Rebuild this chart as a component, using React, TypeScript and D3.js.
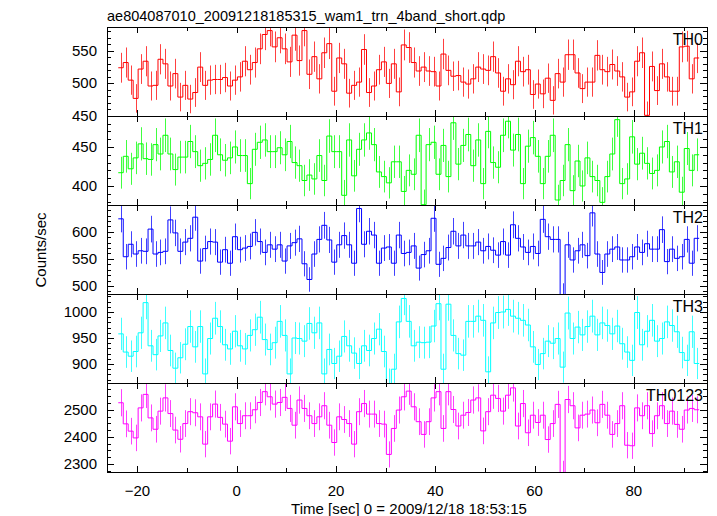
import React from 'react';
import * as d3 from 'd3';

const TITLE = 'ae804087010_20091218185315_wam1_trn_4band_short.qdp';
const X_LABEL = 'Time [sec] 0 = 2009/12/18 18:53:15';
const Y_LABEL = 'Counts/sec';
const T_START = -23.85;
const BIN = 1;
const X_DOMAIN = [-26.12, 94.73];
const X_TICKS = [-20, 0, 20, 40, 60, 80];

const TH0 = [524,532,505,477,522,534,496,497,537,530,496,515,479,497,476,486,525,497,505,506,506,509,496,505,510,534,521,532,553,575,581,556,570,553,533,574,535,581,514,541,507,547,561,488,539,530,485,497,502,552,486,496,521,533,500,530,487,559,555,532,519,525,519,518,496,545,520,511,512,502,499,507,525,522,520,541,516,488,507,498,534,518,521,483,499,484,508,474,515,502,544,544,516,492,502,502,543,521,518,529,519,510,479,487,534,547,451,526,489,530,510,488,488,556,557,507,539];
const TH1 = [417,438,422,436,454,435,434,453,441,465,441,421,437,437,457,444,426,429,434,465,440,433,436,450,439,439,403,447,456,459,444,444,449,440,457,430,426,407,414,409,439,407,464,444,444,388,459,413,447,459,468,453,418,412,404,431,431,393,420,415,465,376,453,456,415,452,412,481,428,452,466,426,459,403,470,430,424,465,483,446,466,403,451,462,438,403,438,465,382,407,453,394,432,400,436,412,407,379,412,441,485,403,409,463,428,442,429,416,420,450,457,418,431,392,448,420,440];
const TH2 = [624,554,577,559,565,564,605,559,562,564,622,598,564,581,588,627,546,569,582,581,544,567,542,591,567,570,573,599,582,562,576,568,576,546,574,580,587,541,512,559,586,612,585,544,576,593,576,542,643,577,601,594,542,570,572,542,594,560,562,574,533,558,565,625,540,551,571,601,574,594,574,574,581,565,573,566,557,582,557,613,588,572,562,573,560,623,591,586,586,483,576,548,565,576,556,635,559,525,559,568,572,548,548,554,572,562,578,568,568,604,545,568,551,554,586,542,588];
const TH3 = [958,923,915,924,960,1018,935,918,954,979,926,892,912,938,972,933,972,881,949,988,972,937,929,963,935,929,955,966,990,947,928,941,982,955,881,950,949,944,978,960,979,881,928,901,915,953,935,921,901,935,926,949,967,924,862,890,981,1026,982,935,942,941,942,973,1016,890,1015,955,920,917,982,982,992,984,885,979,999,1000,1005,992,988,984,975,933,899,920,944,940,949,894,998,949,971,956,972,992,956,979,974,958,973,939,923,907,999,937,963,984,944,949,981,974,962,922,907,962,901];
const TH0123 = [2526,2448,2421,2396,2507,2557,2470,2428,2495,2544,2486,2425,2391,2449,2493,2489,2474,2373,2474,2521,2472,2447,2384,2511,2449,2478,2478,2500,2527,2567,2548,2521,2527,2546,2505,2443,2536,2505,2478,2449,2474,2515,2443,2379,2474,2464,2449,2373,2493,2523,2484,2484,2449,2447,2335,2431,2499,2548,2569,2511,2456,2409,2456,2544,2567,2431,2567,2501,2440,2480,2490,2536,2544,2422,2493,2554,2542,2495,2554,2581,2440,2523,2415,2480,2453,2480,2390,2449,2520,2264,2538,2515,2433,2480,2484,2499,2452,2520,2480,2409,2449,2515,2369,2367,2507,2478,2515,2412,2478,2515,2449,2495,2446,2428,2499,2505,2500];

const PANEL_NAMES = ['TH0', 'TH1', 'TH2', 'TH3', 'TH0123'];
const PANEL_VALUES = [TH0, TH1, TH2, TH3, TH0123];
const PANEL_COLORS = ['#ff0000', '#00ff00', '#0000ff', '#00ffff', '#ff00ff'];
const PANEL_DOMAINS: [number, number][] = [[450, 586.5], [375.6, 489.7], [485.2, 649.5], [863.5, 1034.6], [2270, 2599]];
const PANEL_MAJOR = [50, 50, 50, 50, 100];
const PANEL_MINOR = [10, 10, 10, 10, 25];

const W = 717, H = 516;
const L = 107, R = 707, TOP = 27, BOTTOM = 472;
const FONT = '"Liberation Sans", Arial, Helvetica, sans-serif';

function ticksBetween(lo: number, hi: number, step: number) {
  const out: number[] = [];
  const start = Math.ceil(lo / step - 1e-9) * step;
  for (let v = start; v <= hi + 1e-9; v += step) out.push(+v.toFixed(6));
  return out;
}

export default function App() {
  const x = d3.scaleLinear().domain(X_DOMAIN).range([L, R]);
  const ph = (BOTTOM - TOP) / PANEL_NAMES.length;
  const xMinor = ticksBetween(X_DOMAIN[0], X_DOMAIN[1], 10);

  return (
    <svg width={W} height={H} style={{ position: 'absolute', left: 0, top: 0, background: '#fff' }}
      fontFamily={FONT}>
      <defs>
        {PANEL_NAMES.map((n, i) => (
          <clipPath id={'clip' + i} key={n}>
            <rect x={L} y={TOP + i * ph} width={R - L} height={ph} />
          </clipPath>
        ))}
      </defs>
      <text x={L} y={21} fontSize={14.5} fill="#000">{TITLE}</text>
      {PANEL_NAMES.map((name, i) => {
        const y0 = TOP + i * ph, y1 = y0 + ph;
        const y = d3.scaleLinear().domain(PANEL_DOMAINS[i]).range([y1, y0]);
        const vals = PANEL_VALUES[i];
        const color = PANEL_COLORS[i];
        const line = d3.line<number>()
          .x((_, k) => x(T_START + Math.floor(k / 2) * BIN + (k % 2) * BIN))
          .y((_, k) => y(vals[Math.floor(k / 2)]))
          .curve(d3.curveLinear);
        const pts: number[] = [];
        vals.forEach((v) => { pts.push(v, v); });
        const majors = ticksBetween(PANEL_DOMAINS[i][0], PANEL_DOMAINS[i][1], PANEL_MAJOR[i]);
        const minors = ticksBetween(PANEL_DOMAINS[i][0], PANEL_DOMAINS[i][1], PANEL_MINOR[i]);
        return (
          <g key={name}>
            <g clipPath={`url(#clip${i})`}>
              {vals.map((v, k) => {
                const cx = Math.round(x(T_START + (k + 0.5) * BIN)) + 0.5;
                const e = Math.sqrt(v);
                return <line key={k} x1={cx} x2={cx} y1={y(v - e)} y2={y(v + e)} stroke={color} strokeWidth={1} strokeOpacity={0.75} />;
              })}
              <path d={line(pts) || ''} fill="none" stroke={color} strokeWidth={1} />
            </g>
            {minors.map((t) => {
              const yy = Math.round(y(t)) + 0.5;
              const isMaj = majors.some((m) => Math.abs(m - t) < 1e-6);
              const len = isMaj ? 7 : 4;
              return (
                <g key={'yt' + t}>
                  <line x1={L} x2={L + len} y1={yy} y2={yy} stroke="#000" />
                  <line x1={R - len} x2={R} y1={yy} y2={yy} stroke="#000" />
                </g>
              );
            })}
            {majors.map((t) => (
              <text key={'yl' + t} x={97} y={y(t) + 5} textAnchor="end" fontSize={15} fill="#000">{t}</text>
            ))}
            {xMinor.map((t) => {
              const xx = Math.round(x(t)) + 0.5;
              const isMaj = X_TICKS.includes(t);
              const len = isMaj ? 6 : 4;
              return (
                <g key={'xt' + t}>
                  <line x1={xx} x2={xx} y1={y0} y2={y0 + len} stroke="#000" />
                  <line x1={xx} x2={xx} y1={y1 - len} y2={y1} stroke="#000" />
                </g>
              );
            })}
            <text x={703} y={y0 + 18} textAnchor="end" fontSize={16} fill="#000">{name}</text>
          </g>
        );
      })}
      <rect x={L + 0.5} y={TOP + 0.5} width={R - L} height={BOTTOM - TOP} fill="none" stroke="#000" strokeWidth={1} />
      {PANEL_NAMES.slice(1).map((n, i) => (
        <line key={'div' + n} x1={L} x2={R} y1={Math.round(TOP + (i + 1) * ph) + 0.5} y2={Math.round(TOP + (i + 1) * ph) + 0.5} stroke="#000" />
      ))}
      {X_TICKS.map((t) => (
        <text key={'xl' + t} x={x(t)} y={496} textAnchor="middle" fontSize={15} fill="#000">{t < 0 ? '\u2212' + Math.abs(t) : t}</text>
      ))}
      <text x={409} y={514} textAnchor="middle" fontSize={15} fill="#000">{X_LABEL}</text>
      <text transform="translate(46,250) rotate(-90)" textAnchor="middle" fontSize={15} fill="#000">{Y_LABEL}</text>
    </svg>
  );
}
